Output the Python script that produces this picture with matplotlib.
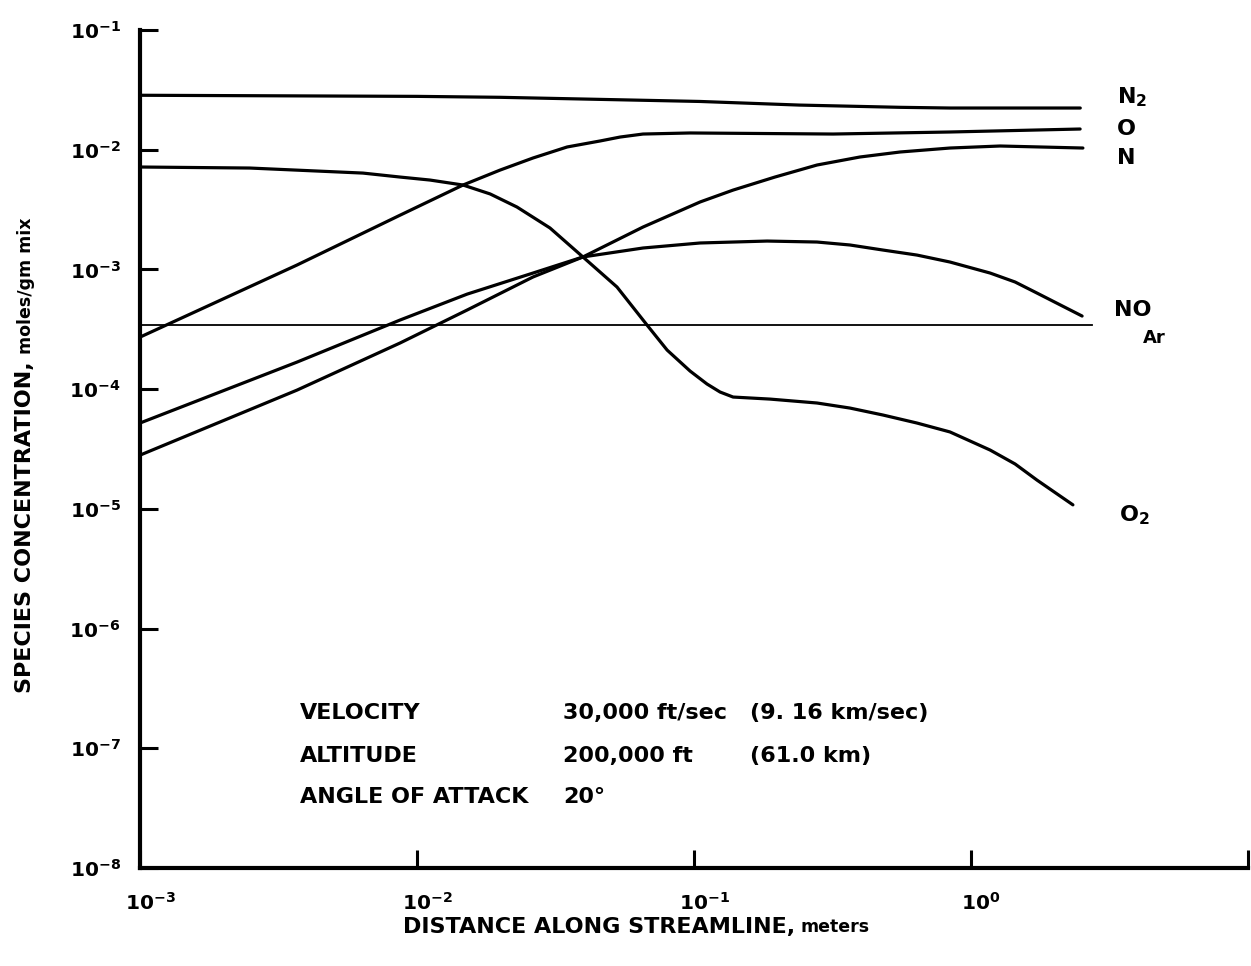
import matplotlib
matplotlib.use("Agg")
import matplotlib.pyplot as plt
from matplotlib import transforms as mtrans

# ---------------- data ----------------
n2_x = [1.0e-3, 1.0e-2, 2.0e-2, 0.105, 0.24, 0.555, 0.84, 2.48]
n2_y = [0.0285, 0.0279, 0.0274, 0.0253, 0.0236, 0.0226, 0.0223, 0.0223]

o_x = [1.0e-3, 3.69e-3, 8.69e-3, 1.466e-2, 1.995e-2, 2.624e-2, 3.483e-2,
       4.581e-2, 5.41e-2, 6.546e-2, 9.68e-2, 0.3177, 0.8395, 2.477]
o_y = [2.72e-4, 1.089e-3, 2.84e-3, 5.07e-3, 6.76e-3, 8.53e-3, 1.054e-2,
       1.183e-2, 1.276e-2, 1.352e-2, 1.380e-2, 1.352e-2, 1.406e-2, 1.489e-2]

n_x = [1.0e-3, 3.69e-3, 8.69e-3, 1.517e-2, 2.624e-2, 3.972e-2, 6.546e-2,
       0.1052, 0.1384, 0.1959, 0.278, 0.397, 0.5546, 0.8395, 1.274, 2.535]
n_y = [2.81e-5, 9.82e-5, 2.43e-4, 4.58e-4, 8.65e-4, 1.271e-3, 2.26e-3,
       3.66e-3, 4.60e-3, 5.91e-3, 7.45e-3, 8.69e-3, 9.57e-3, 1.033e-2,
       1.074e-2, 1.033e-2]

no_x = [1.0e-3, 3.69e-3, 8.69e-3, 1.517e-2, 2.624e-2, 3.972e-2, 6.546e-2,
        0.1052, 0.1837, 0.278, 0.3656, 0.4808, 0.6383, 0.8395, 1.172, 1.443,
        1.730, 2.518]
no_y = [5.21e-5, 1.683e-4, 3.78e-4, 6.22e-4, 9.33e-4, 1.271e-3, 1.510e-3,
        1.663e-3, 1.726e-3, 1.694e-3, 1.600e-3, 1.452e-3, 1.318e-3, 1.153e-3,
        9.33e-4, 7.85e-4, 6.35e-4, 4.08e-4]

ar_x = [1.0e-3, 2.74]
ar_y = [3.43e-4, 3.43e-4]

o2_x = [1.0e-3, 2.49e-3, 6.38e-3, 8.69e-3, 1.114e-2, 1.466e-2, 1.837e-2,
        2.296e-2, 3.020e-2, 3.972e-2, 5.272e-2, 6.761e-2, 7.998e-2, 9.68e-2,
        0.1114, 0.1242, 0.1384, 0.188, 0.278, 0.3656, 0.4808, 0.6383, 0.8395,
        1.172, 1.443, 1.730, 2.333]
o2_y = [7.17e-3, 7.03e-3, 6.38e-3, 5.91e-3, 5.58e-3, 5.07e-3, 4.27e-3,
        3.32e-3, 2.22e-3, 1.271e-3, 7.13e-4, 3.44e-4, 2.12e-4, 1.416e-4,
        1.104e-4, 9.46e-5, 8.59e-5, 8.26e-5, 7.66e-5, 6.95e-5, 6.08e-5,
        5.21e-5, 4.39e-5, 3.10e-5, 2.37e-5, 1.74e-5, 1.08e-5]

x_ticks = [1e-3, 1e-2, 1e-1, 1e0, 1e1]
x_tick_labels = [r"$\mathbf{10^{-3}}$", r"$\mathbf{10^{-2}}$", r"$\mathbf{10^{-1}}$",
                 r"$\mathbf{10^{0}}$", ""]
y_ticks = [1e-8, 1e-7, 1e-6, 1e-5, 1e-4, 1e-3, 1e-2, 1e-1]
y_tick_labels = [r"$\mathbf{10^{-%d}}$" % k for k in range(8, 0, -1)]

species_labels = [r"$\mathbf{N_2}$", "O", "N", "NO", "Ar", r"$\mathbf{O_2}$"]

cond_rows = [("VELOCITY", "30,000 ft/sec", "(9. 16 km/sec)"),
             ("ALTITUDE", "200,000 ft", "(61.0 km)"),
             ("ANGLE OF ATTACK", "20\u00b0", "")]

# ---------------- style ----------------
plt.rcParams["font.family"] = ["DejaVu Sans"]
plt.rcParams["font.weight"] = "bold"
plt.rcParams["mathtext.fontset"] = "dejavusans"

W, H = 1251, 966
fig = plt.figure(figsize=(W / 100, H / 100), dpi=100)
L, R, B, T = 140, 1248, 868, 30
ax = fig.add_axes([L / W, 1 - B / H, (R - L) / W, (B - T) / H])

ax.set_xscale("log")
ax.set_yscale("log")
ax.set_xlim(1e-3, 1e1)
ax.set_ylim(1e-8, 1e-1)

lw = 2.3
for xs, ys in [(n2_x, n2_y), (o_x, o_y), (n_x, n_y), (no_x, no_y), (o2_x, o2_y)]:
    ax.plot(xs, ys, color="black", lw=lw, solid_capstyle="round",
            solid_joinstyle="round", clip_on=False)
ax.plot(ar_x, ar_y, color="black", lw=1.3, clip_on=False)

for s in ["top", "right"]:
    ax.spines[s].set_visible(False)
for s in ["left", "bottom"]:
    ax.spines[s].set_linewidth(3.0)

ax.set_xticks(x_ticks)
ax.set_xticklabels(x_tick_labels)
ax.set_yticks(y_ticks)
ax.set_yticklabels(y_tick_labels)
ax.minorticks_off()
ax.tick_params(axis="both", which="major", direction="in", length=13, width=2.2,
               labelsize=14.5)
ax.tick_params(axis="x", pad=17)
ax.tick_params(axis="y", pad=14)
off = mtrans.ScaledTranslation(10 / 100, 0, fig.dpi_scale_trans)
for lab in ax.get_xticklabels():
    lab.set_transform(lab.get_transform() + off)

# species labels (axes-fraction positions)
def axfrac(px, py):
    return (px - L) / (R - L), (B - py) / (B - T)

lab_pos = [(1117, 97, 16), (1117, 129, 16), (1117, 158, 16),
           (1114, 310, 16), (1143, 338, 13), (1119, 515, 16)]
for txt, (px, py, fs) in zip(species_labels, lab_pos):
    fx, fy = axfrac(px, py)
    ax.text(fx, fy, txt, transform=ax.transAxes, ha="left", va="center",
            fontsize=fs, fontweight="bold")

# condition block
row_y = [713, 756, 797]
col_x = [300, 563, 750]
for (a, b, c), py in zip(cond_rows, row_y):
    for txt, px in zip((a, b, c), col_x):
        if txt:
            fig.text(px / W, 1 - py / H, txt, ha="left", va="center",
                     fontsize=16, fontweight="bold")

# axis labels
t1 = fig.text(403 / W, 1 - 927 / H, "DISTANCE ALONG STREAMLINE,", ha="left",
              va="center", fontsize=16, fontweight="bold")
ax.annotate("meters", xy=(1, 0), xycoords=t1, xytext=(4, 1),
            textcoords="offset points", ha="left", va="bottom",
            fontsize=12.5, fontweight="bold", annotation_clip=False)
t2 = fig.text(25 / W, 1 - 693 / H, "SPECIES CONCENTRATION,", ha="center",
              va="bottom", rotation=90, fontsize=16, fontweight="bold")
ax.annotate("moles/gm mix", xy=(1, 1), xycoords=t2, xytext=(0, 5),
            textcoords="offset points", ha="right", va="bottom", rotation=90,
            fontsize=12.5, fontweight="bold", annotation_clip=False)

fig.savefig("out.png", dpi=100)
